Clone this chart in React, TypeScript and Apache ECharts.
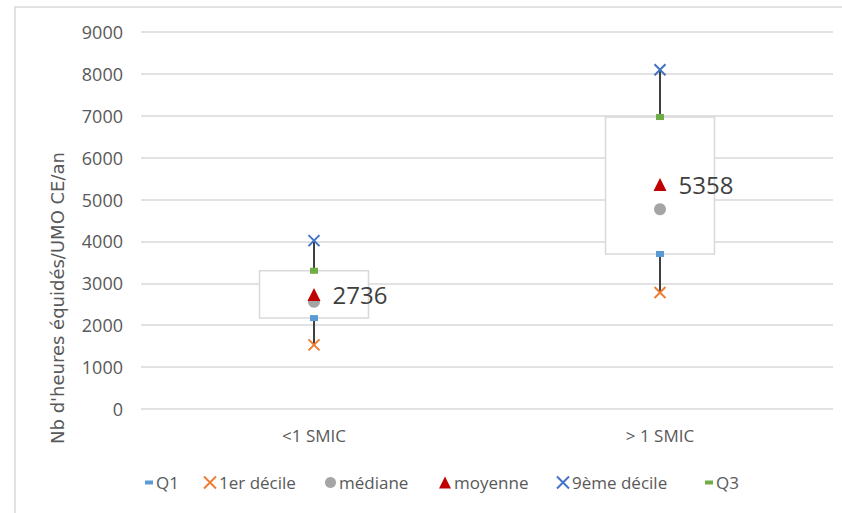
import React, { useEffect, useRef } from "react";
import * as echarts from "echarts";

const categories = ["<1 SMIC", "> 1 SMIC"];
const q1 = [2170, 3700];
const decile1 = [1530, 2780];
const mediane = [2560, 4770];
const moyenne = [2736, 5358];
const decile9 = [4020, 8100];
const q3 = [3300, 6970];
const yTicks = { min: 0, max: 9000, interval: 1000 };
const axisTitle = "Nb d'heures équidés/UMO CE/an";

const FONT = "'Open Sans', sans-serif";
const TXT = "#595959";

const CROSS = "path://M0,0L10,10M10,0L0,10";
const SMALLSQ = "path://M0,0M8,8M0,2h8v4h-8z";

const legendItems = [
  { name: "Q1", icon: SMALLSQ, left: 145, w: 8, h: 8 },
  { name: "1er décile", icon: CROSS, left: 203, w: 12, h: 12 },
  { name: "médiane", icon: "circle", left: 325, w: 11, h: 11 },
  { name: "moyenne", icon: "triangle", left: 439, w: 12, h: 12 },
  { name: "9ème décile", icon: CROSS, left: 556, w: 12, h: 12 },
  { name: "Q3", icon: SMALLSQ, left: 705, w: 8, h: 8 },
];

export default function App() {
  const ref = useRef<HTMLDivElement>(null);
  useEffect(() => {
    const chart = echarts.init(ref.current!, null, { renderer: "svg" });
    const boxData = categories.map((_, i) => [i, q1[i], q3[i]]);
    const whiskerData = categories.map((_, i) => [i, decile1[i], q1[i], q3[i], decile9[i]]);
    const pts = (arr: number[]) => arr.map((v, i) => [i, v]);
    chart.setOption({
      animation: false,
      backgroundColor: "#fff",
      textStyle: { fontFamily: FONT },
      grid: { left: 141, right: 9, top: 32, bottom: 104 },
      xAxis: {
        type: "category",
        data: categories,
        boundaryGap: true,
        axisLine: { show: false },
        axisTick: { show: false },
        axisLabel: { color: TXT, fontSize: 17, margin: 18, fontFamily: FONT },
      },
      yAxis: {
        type: "value",
        ...yTicks,
        axisLine: { show: false },
        axisTick: { show: false },
        axisLabel: {
          color: TXT,
          fontSize: 18,
          margin: 18,
          fontFamily: FONT,
          formatter: (v: number) => String(v),
        },
        splitLine: { lineStyle: { color: "#D9D9D9", width: 1.5 } },
      },
      legend: legendItems.map((it) => ({
        data: [{ name: it.name, icon: it.icon }],
        left: it.left,
        top: 474,
        itemWidth: it.w,
        itemHeight: it.h,
        padding: 0,
        itemGap: 0,
        textStyle: {
          color: TXT,
          fontSize: 17,
          fontFamily: FONT,
          verticalAlign: "middle",
          padding: [0, 0, 0, -2],
        },
      })),
      graphic: [
        {
          type: "rect",
          shape: { x: 15, y: 7, width: 900, height: 600 },
          style: { fill: "none", stroke: "#D9D9D9", lineWidth: 1.5 },
          silent: true,
        },
        {
          type: "text",
          x: 57,
          y: 298,
          rotation: Math.PI / 2,
          style: {
            text: axisTitle,
            fill: TXT,
            fontSize: 18,
            fontFamily: "'DejaVu Sans', sans-serif",
            align: "center",
            verticalAlign: "middle",
          },
        },
      ],
      series: [
        {
          type: "custom",
          name: "box",
          data: boxData,
          encode: { x: 0, y: [1, 2] },
          z: 1,
          renderItem: (params: any, api: any) => {
            const x = api.value(0);
            const top = api.coord([x, api.value(2)]);
            const bot = api.coord([x, api.value(1)]);
            const w = api.size([1, 0])[0] * 0.315;
            return {
              type: "rect",
              shape: { x: top[0] - w / 2, y: top[1], width: w, height: bot[1] - top[1] },
              style: { fill: "#fff", stroke: "#D9D9D9", lineWidth: 1.5 },
            };
          },
        },
        {
          type: "custom",
          name: "whiskers",
          data: whiskerData,
          encode: { x: 0, y: [1, 2, 3, 4] },
          z: 2,
          renderItem: (params: any, api: any) => {
            const x = api.value(0);
            const a = api.coord([x, api.value(1)]);
            const b = api.coord([x, api.value(2)]);
            const c = api.coord([x, api.value(3)]);
            const d = api.coord([x, api.value(4)]);
            const st = { stroke: "#404040", lineWidth: 2 };
            return {
              type: "group",
              children: [
                { type: "line", shape: { x1: a[0], y1: a[1], x2: b[0], y2: b[1] }, style: st },
                { type: "line", shape: { x1: c[0], y1: c[1], x2: d[0], y2: d[1] }, style: st },
              ],
            };
          },
        },
        {
          type: "scatter",
          name: "Q1",
          data: pts(q1),
          symbol: "rect",
          symbolSize: [8, 6],
          itemStyle: { color: "#5B9BD5", opacity: 1 },
          z: 3,
        },
        {
          type: "scatter",
          name: "1er décile",
          data: pts(decile1),
          symbol: CROSS,
          symbolSize: 11,
          itemStyle: { color: "#ED7D31", borderColor: "#ED7D31", borderWidth: 2, opacity: 1 },
          z: 3,
        },
        {
          type: "scatter",
          name: "médiane",
          data: pts(mediane),
          symbol: "circle",
          symbolSize: 12,
          itemStyle: { color: "#A5A5A5", opacity: 1 },
          z: 3,
        },
        {
          type: "scatter",
          name: "moyenne",
          data: pts(moyenne),
          symbol: "triangle",
          symbolSize: 13,
          itemStyle: { color: "#C00000", opacity: 1 },
          z: 4,
          label: {
            show: true,
            position: "right",
            distance: 12,
            color: "#404040",
            fontSize: 24,
            fontFamily: FONT,
            formatter: (p: any) => String(p.value[1]),
          },
        },
        {
          type: "scatter",
          name: "9ème décile",
          data: pts(decile9),
          symbol: CROSS,
          symbolSize: 11,
          itemStyle: { color: "#4472C4", borderColor: "#4472C4", borderWidth: 2, opacity: 1 },
          z: 3,
        },
        {
          type: "scatter",
          name: "Q3",
          data: pts(q3),
          symbol: "rect",
          symbolSize: [8, 6],
          itemStyle: { color: "#70AD47", opacity: 1 },
          z: 3,
        },
      ],
    });
    return () => chart.dispose();
  }, []);
  return (
    <div
      ref={ref}
      style={{ position: "fixed", left: 0, top: 0, width: 842, height: 513 }}
    />
  );
}
